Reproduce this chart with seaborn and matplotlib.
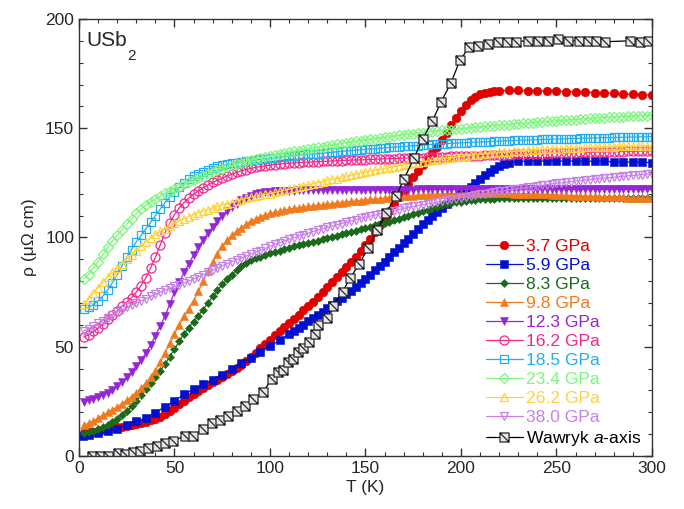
import numpy as np
import pandas as pd
import matplotlib
matplotlib.use("Agg")
import matplotlib.pyplot as plt
import seaborn as sns
from matplotlib.path import Path
from matplotlib.ticker import MultipleLocator

# ---------------- data ----------------
T_grid = [2.5, 5, 7.5, 10, 12.5, 15, 17.5, 20, 22.5, 25,
          27.5, 30, 32.5, 35, 37.5, 40, 42.5, 45, 47.5, 50,
          52.5, 55, 57.5, 60, 62.5, 65, 67.5, 70, 72.5, 75,
          77.5, 80, 82.5, 85, 87.5, 90, 92.5, 95, 97.5, 100,
          102.5, 105, 107.5, 110, 112.5, 115, 117.5, 120, 122.5, 125,
          127.5, 130, 132.5, 135, 137.5, 140, 142.5, 145, 147.5, 150,
          152.5, 155, 157.5, 160, 162.5, 165, 167.5, 170, 172.5, 175,
          177.5, 180, 182.5, 185, 187.5, 190, 192.5, 195, 197.5, 200,
          202.5, 205, 207.5, 210, 212.5, 215, 217.5, 220, 222.5, 225,
          227.5, 230, 232.5, 235, 237.5, 240, 242.5, 245, 247.5, 250,
          252.5, 255, 257.5, 260, 262.5, 265, 267.5, 270, 272.5, 275,
          277.5, 280, 282.5, 285, 287.5, 290, 292.5, 295, 297.5, 300]

T_3p7 = T_grid[:88] + [225, 230, 235, 240, 245, 250, 255, 260, 265, 270, 275, 280, 285, 290, 295, 300]
rho_3p7 = [10.5, 10.8, 11.1, 11.5, 11.9, 12.3, 12.7, 13.1, 13.5, 13.9,
           14.3, 14.7, 15.1, 15.6, 16.3, 17, 18, 19.1, 20.5, 22,
           23.6, 25.3, 26.9, 28.3, 29.8, 31.2, 32.5, 33.8, 35, 36.3,
           37.5, 38.8, 40.3, 41.8, 43.5, 45.3, 47.3, 49.3, 51.3, 53.3,
           55.3, 57.1, 59, 60.8, 62.7, 64.6, 66.6, 68.6, 70.7, 72.8,
           75, 77.3, 79.5, 81.7, 84, 86.3, 88.8, 91.3, 93.8, 96.5,
           99.5, 102.5, 105.7, 109, 112.3, 115.5, 118.5, 121.5, 124.5, 127.5,
           130.3, 133, 135.8, 138.5, 141.5, 144.5, 148, 151.5, 154.8, 158,
           160.7, 163, 164.5, 165.5, 166.2, 166.7, 167, 167.2,
           167.3, 167.3, 167.2, 167.1, 167, 166.9, 166.8, 166.6, 166.5, 166.3,
           166.1, 165.9, 165.7, 165.5, 165.3, 165.1]

T_5p9 = [2, 5, 10, 15, 20, 25, 30, 35, 40, 45, 50, 55, 60, 65, 70, 75, 80, 85, 90, 95,
         100, 105, 110] + T_grid[44:90] + [230, 235, 240, 245, 250, 255, 260, 265, 270,
                                            275, 280, 285, 290, 295, 300]
rho_5p9 = [9, 9.6, 10.5, 11.3, 12.3, 14.3, 15.8, 17.4, 19.8, 22.6, 25.2, 28.2, 30.6, 32.8,
           35, 37.3, 39.8, 42.5, 45, 47.7, 50.2, 53, 55.8,
           57, 58.6, 60.1, 61.6, 63.1, 64.6, 66.1, 67.6, 69.2, 70.8,
           72.4, 74, 75.7, 77.4, 79.2, 81, 83, 85, 87, 89,
           91.2, 93.4, 95.4, 97.4, 99.4, 101.5, 103.7, 106, 108, 110,
           111.8, 113.5, 115.2, 117, 118.5, 120, 121.5, 123, 125, 127,
           128.7, 130.2, 131.5, 132.6, 133.5, 134.2,
           134.8, 135, 135, 135, 135, 135, 135, 134.9, 134.9, 134.8, 134.7, 134.6, 134.5,
           134.4, 134.3]

rho_8p3 = [10.6, 11, 11.6, 12.3, 13.2, 14.3, 15.6, 17, 18.7, 20.5,
           22.7, 25, 27.7, 30.5, 33.2, 36, 39, 42, 45.5, 49,
           52.5, 56, 58.8, 61.5, 64.2, 67, 70, 73, 75.8, 78.5,
           80.8, 83, 85.2, 87, 88.4, 89.5, 90.4, 91.3, 92.1, 92.8,
           93.4, 94, 94.7, 95.3, 95.9, 96.5, 97, 97.5, 98, 98.5,
           99.1, 99.7, 100.2, 100.8, 101.4, 102, 102.6, 103.2, 103.7, 104.3,
           104.9, 105.5, 106.1, 106.7, 107.3, 108, 108.6, 109.3, 110, 110.7,
           111.3, 112, 112.8, 113.5, 114.1, 114.7, 115.2, 115.7, 116.1, 116.4,
           116.7, 117, 117.2, 117.4, 117.6, 117.7, 117.8, 117.9, 118, 118.1,
           118.2, 118.2, 118.3, 118.3, 118.3, 118.3, 118.3, 118.3, 118.3, 118.3,
           118.3, 118.3, 118.3, 118.3, 118.3, 118.2, 118.2, 118.2, 118.2, 118.2,
           118.1, 118.1, 118.1, 118.1, 118.1, 118, 118, 118, 118, 118]
rho_9p8 = [14.3, 15, 16, 17.5, 18.7, 20, 21.2, 22.5, 24, 25.5,
           27.2, 29, 31.2, 33.5, 36.2, 39, 42.8, 47, 51.5, 56,
           60, 64, 67.5, 71, 75.5, 80, 84.5, 89, 92.5, 96,
           98.7, 101, 102.8, 104.5, 106, 107.5, 108.5, 109.5, 110.3, 111,
           111.5, 112, 112.5, 113, 113.3, 113.6, 113.9, 114.2, 114.5, 114.8,
           115, 115.3, 115.5, 115.8, 116, 116.2, 116.5, 116.7, 116.9, 117.2,
           117.4, 117.6, 117.8, 118, 118.2, 118.4, 118.6, 118.8, 119, 119.2,
           119.3, 119.5, 119.6, 119.7, 119.8, 119.9, 120, 120.1, 120.1, 120.2,
           120.2, 120.2, 120.3, 120.3, 120.3, 120.3, 120.3, 120.2, 120.2, 120.2,
           120.1, 120.1, 120, 120, 119.9, 119.8, 119.8, 119.7, 119.6, 119.5,
           119.4, 119.3, 119.2, 119.1, 119, 118.95, 118.9, 118.8, 118.75, 118.7,
           118.6, 118.5, 118.4, 118.4, 118.3, 118.2, 118.2, 118.1, 118.1, 118]
rho_12p3 = [24.5, 25.5, 26.2, 27, 28, 29, 30.3, 32, 34, 36,
            38.5, 41, 44, 47, 51, 55, 59.5, 64, 69.5, 75,
            79.5, 84, 88, 92, 95.5, 99, 102, 105, 107.5, 110,
            112, 114, 115.5, 117, 118, 119, 119.7, 120.3, 120.7, 121,
            121.2, 121.3, 121.4, 121.5, 121.5, 121.6, 121.6, 121.7, 121.7, 121.7,
            121.8, 121.8, 121.8, 121.8, 121.8, 121.8, 121.8, 121.8, 121.8, 121.8,
            121.9, 121.9, 121.9, 121.9, 121.9, 121.9, 121.9, 121.9, 121.9, 121.9,
            122, 122, 122, 122, 122, 122, 122, 122, 122, 122,
            122, 122, 122, 122, 122, 122, 122, 122, 122, 122,
            122, 122, 122, 122, 122, 122, 122, 122, 122, 122,
            122, 122, 122, 122, 122, 122, 122, 122, 122, 122,
            122, 122, 122, 122, 122, 122, 122, 122, 122, 122]
rho_16p2 = [54.5, 55.5, 57, 58.5, 60.5, 62.5, 64.5, 66.5, 68.5, 70.5,
            72.5, 75, 78, 81.5, 86, 91, 96.5, 102, 106.5, 110.5,
            113.5, 116, 118, 119.8, 121.3, 122.7, 124, 125.2, 126.2, 127.2,
            128.1, 129, 129.8, 130.5, 131.1, 131.6, 132.1, 132.5, 132.8, 133.1,
            133.4, 133.6, 133.8, 134, 134.1, 134.3, 134.4, 134.5, 134.6, 134.7,
            134.8, 134.9, 135, 135.1, 135.2, 135.3, 135.4, 135.5, 135.5, 135.6,
            135.7, 135.8, 135.9, 136, 136.1, 136.1, 136.2, 136.3, 136.4, 136.5,
            136.5, 136.6, 136.7, 136.8, 136.8, 136.9, 137, 137.1, 137.1, 137.2,
            137.3, 137.4, 137.4, 137.5, 137.6, 137.6, 137.7, 137.8, 137.9, 137.9,
            138, 138.1, 138.1, 138.2, 138.3, 138.3, 138.4, 138.4, 138.5, 138.6,
            138.6, 138.7, 138.7, 138.8, 138.9, 138.9, 139, 139, 139.1, 139.1,
            139.2, 139.2, 139.3, 139.3, 139.4, 139.4, 139.5, 139.5, 139.6, 139.6]
rho_18p5 = [67.3, 68, 69.3, 71, 73.2, 76, 79.3, 83, 87, 91,
            94.5, 98, 101, 104, 107, 110, 113, 116, 118.6, 121,
            123, 125, 126.6, 128, 129.1, 130, 131, 132, 132.5, 133,
            133.5, 134, 134.3, 134.6, 134.9, 135.2, 135.5, 135.8, 136, 136.3,
            136.5, 136.8, 137, 137.2, 137.4, 137.6, 137.8, 138, 138.2, 138.4,
            138.6, 138.8, 139, 139.2, 139.4, 139.6, 139.8, 140, 140.1, 140.3,
            140.5, 140.7, 140.8, 141, 141.2, 141.3, 141.5, 141.7, 141.8, 142,
            142.1, 142.3, 142.4, 142.6, 142.7, 142.9, 143, 143.1, 143.2, 143.3,
            143.4, 143.5, 143.6, 143.7, 143.8, 143.9, 144, 144.1, 144.2, 144.3,
            144.4, 144.5, 144.6, 144.6, 144.7, 144.8, 144.9, 144.9, 145, 145.1,
            145.1, 145.2, 145.3, 145.3, 145.4, 145.5, 145.5, 145.6, 145.6, 145.7,
            145.7, 145.8, 145.8, 145.9, 145.9, 146, 146, 146.1, 146.1, 146.2]
rho_23p4 = [81, 83, 86, 89, 92.3, 95.5, 98.5, 101, 103.6, 106,
            108.5, 111, 113, 114.8, 116.3, 117.7, 119, 120.2, 121.3, 122.3,
            123.3, 124.3, 125.3, 126.3, 127.2, 128.1, 129, 129.9, 130.7, 131.5,
            132.2, 132.9, 133.6, 134.2, 134.8, 135.4, 135.9, 136.4, 136.9, 137.3,
            137.8, 138.2, 138.6, 139, 139.4, 139.8, 140.2, 140.6, 140.9, 141.3,
            141.6, 142, 142.3, 142.7, 143, 143.4, 143.7, 144, 144.3, 144.6,
            144.9, 145.2, 145.5, 145.8, 146.1, 146.4, 146.7, 147, 147.2, 147.5,
            147.7, 148, 148.2, 148.5, 148.7, 149, 149.2, 149.4, 149.6, 149.8,
            150, 150.2, 150.4, 150.6, 150.8, 151, 151.2, 151.4, 151.5, 151.7,
            151.9, 152.1, 152.3, 152.4, 152.6, 152.8, 152.9, 153.1, 153.3, 153.4,
            153.6, 153.7, 153.9, 154, 154.2, 154.3, 154.5, 154.6, 154.8, 154.9,
            155, 155.1, 155.2, 155.3, 155.4, 155.5, 155.6, 155.7, 155.8, 155.9]
rho_26p2 = [69.5, 72, 74.5, 77, 79.5, 82, 84, 86, 88, 90,
            92, 94, 96, 98, 99.8, 101.5, 102.8, 104, 105.3, 106.5,
            107.5, 108.5, 109.5, 110.5, 111.3, 112, 112.8, 113.5, 114.2, 114.8,
            115.4, 116, 116.6, 117.2, 117.9, 118.5, 118.9, 119.3, 119.7, 120.1,
            120.6, 121.1, 121.6, 122.1, 122.6, 123.1, 123.6, 124.1, 124.6, 125.1,
            125.6, 126.1, 126.6, 127, 127.5, 128, 128.5, 129, 129.5, 130,
            130.4, 130.8, 131.2, 131.6, 132, 132.4, 132.8, 133.2, 133.5, 133.9,
            134.2, 134.6, 134.9, 135.3, 135.6, 135.9, 136.2, 136.5, 136.8, 137.1,
            137.3, 137.6, 137.8, 138.1, 138.3, 138.5, 138.7, 138.9, 139.1, 139.3,
            139.4, 139.6, 139.7, 139.9, 140, 140.1, 140.3, 140.4, 140.5, 140.6,
            140.7, 140.8, 140.9, 141, 141.1, 141.2, 141.3, 141.3, 141.4, 141.5,
            141.5, 141.6, 141.7, 141.7, 141.8, 141.8, 141.9, 141.9, 142, 142]
rho_38p0 = [57.3, 58.3, 59.5, 60.8, 62, 63.3, 64.6, 65.8, 67, 68,
            69, 70, 71, 72, 73, 74, 75, 76, 76.8, 77.6,
            78.4, 79.2, 80.1, 81, 82, 83, 84, 85, 86, 87,
            88, 89, 89.8, 90.6, 91.5, 92.4, 93.2, 94, 95, 96,
            96.8, 97.6, 98.4, 99.2, 99.9, 100.6, 101.3, 102, 102.7, 103.4,
            104, 104.6, 105.2, 105.8, 106.4, 107, 107.6, 108.2, 108.8, 109.3,
            109.8, 110.3, 110.8, 111.3, 111.8, 112.3, 112.8, 113.3, 113.8, 114.2,
            114.6, 115, 115.4, 115.8, 116.2, 116.6, 117, 117.4, 117.8, 118.2,
            118.5, 118.9, 119.3, 119.7, 120, 120.4, 120.7, 121.1, 121.4, 121.8,
            122.1, 122.4, 122.7, 123, 123.3, 123.6, 123.9, 124.2, 124.5, 124.8,
            125, 125.3, 125.5, 125.8, 126, 126.3, 126.5, 126.8, 127, 127.2,
            127.4, 127.6, 127.8, 128, 128.2, 128.4, 128.6, 128.8, 129, 129.2]

T_wawryk = [6.6, 11, 15.4, 20.6, 24, 28.4, 32, 36.3, 40.7, 45, 49.4, 55.5, 59.8, 65, 69.5, 73.8, 78.2, 82.6,
            86.9, 91.3, 96.5, 100.9, 104.4, 107, 109.6, 112.2, 114.8, 117.4, 120.6, 123.6, 125.3, 129.7, 133,
            138, 141.9, 146.8, 151.5, 156.2, 160.7, 166, 170.3, 175.4, 179.9, 185, 189.5, 194.8, 199.5, 204.2,
            208.7, 214.3, 219.5, 224.3, 229, 235, 240.5, 245.7, 250.6, 256, 261.8, 266.7, 270.5, 275.4, 288.5,
            293.7, 298]
rho_wawryk = [0, 0, 0, 1.2, 0.9, 1.7, 2.4, 3.5, 4.7, 5.9, 6.9, 9.3, 9.3, 12.4, 15, 16.5, 18.3, 20.7,
              22.9, 25.9, 29.5, 35.2, 38.6, 39.4, 43, 44.4, 47.7, 49.6, 52.3, 56, 60, 63, 68.6,
              75.2, 81.3, 88, 95.3, 103.4, 111, 119, 127, 136.4, 145, 153.3, 161.9, 170.9, 181.2, 187,
              187.6, 188.6, 189.6, 189.6, 189.6, 190.1, 190, 190, 190.8, 190, 190, 190, 190, 189.6, 190,
              189.6, 190]

labels = ["3.7 GPa", "5.9 GPa", "8.3 GPa", "9.8 GPa", "12.3 GPa", "16.2 GPa",
          "18.5 GPa", "23.4 GPa", "26.2 GPa", "38.0 GPa"]
t_series = [T_3p7, T_5p9, T_grid, T_grid, T_grid, T_grid, T_grid, T_grid, T_grid, T_grid]
series = [rho_3p7, rho_5p9, rho_8p3, rho_9p8, rho_12p3, rho_16p2,
          rho_18p5, rho_23p4, rho_26p2, rho_38p0]

# ---------------- style ----------------
sns.set_theme(style="ticks")
plt.rcParams["font.family"] = ["Liberation Sans", "DejaVu Sans"]
plt.rcParams["mathtext.fontset"] = "custom"
plt.rcParams["mathtext.rm"] = "Liberation Sans"
plt.rcParams["mathtext.it"] = "Liberation Sans:italic"

colors = ["#e00000", "#0010d0", "#1a6a1a", "#f07a1e", "#9526d6", "#f0288c",
          "#23aef0", "#7cf77c", "#ffd23c", "#c780e8"]
styles = [
    dict(marker="o", ms=6.2, filled=True),
    dict(marker="s", ms=5.8, filled=True),
    dict(marker="D", ms=3.8, filled=True),
    dict(marker="^", ms=6.2, filled=True),
    dict(marker="v", ms=6.2, filled=True),
    dict(marker="o", ms=6.5, filled=False),
    dict(marker="s", ms=6.2, filled=False),
    dict(marker="D", ms=5.0, filled=False),
    dict(marker="^", ms=6.0, filled=False),
    dict(marker="v", ms=6.0, filled=False),
]

fig = plt.figure(figsize=(6.84, 5.09), dpi=100)
ax = fig.add_axes([0.1155, 0.1041, 0.8377, 0.8586])

for lab, tt, vals, c, st in zip(labels, t_series, series, colors, styles):
    df = pd.DataFrame({"T": tt, "rho": vals})
    sns.lineplot(data=df, x="T", y="rho", ax=ax, color=c, linewidth=0.9,
                 marker=st["marker"], markersize=st["ms"],
                 markerfacecolor=(c if st["filled"] else "none"),
                 markeredgecolor=c, markeredgewidth=(0.4 if st["filled"] else 0.9),
                 label=lab, sort=False, estimator=None)

# square with a diagonal for the Wawryk data
sq_verts = [(-1, -1), (1, -1), (1, 1), (-1, 1), (-1, -1), (-1, 1), (1, -1)]
sq_codes = [Path.MOVETO, Path.LINETO, Path.LINETO, Path.LINETO, Path.CLOSEPOLY,
            Path.MOVETO, Path.LINETO]
sq_marker = Path(sq_verts, sq_codes)
dfw = pd.DataFrame({"T": T_wawryk, "rho": rho_wawryk})
sns.lineplot(data=dfw, x="T", y="rho", ax=ax, color="black", linewidth=0.9,
             marker=sq_marker, markersize=6.5, markerfacecolor="#e8e8e8",
             markeredgecolor="#262626", markeredgewidth=0.9,
             label=r"Wawryk $a$-axis", sort=False, estimator=None)

ax.set_xlim(0, 300)
ax.set_ylim(0, 200)
ax.xaxis.set_major_locator(MultipleLocator(50))
ax.xaxis.set_minor_locator(MultipleLocator(10))
ax.yaxis.set_major_locator(MultipleLocator(50))
ax.yaxis.set_minor_locator(MultipleLocator(10))
ax.tick_params(which="both", direction="in", top=True, right=True, labelsize=12.5,
               color="#333333")
ax.tick_params(which="major", length=6, width=1)
ax.tick_params(which="minor", length=3, width=0.8)
for sp in ax.spines.values():
    sp.set_linewidth(1.0)
    sp.set_color("#333333")

ax.set_xlabel("T (K)", fontsize=12.5, labelpad=3)
ax.set_ylabel("ρ (μΩ cm)", fontsize=12.5, labelpad=6)

ax.text(0.012, 0.972, "USb", transform=ax.transAxes, fontsize=15,
        ha="left", va="top")
ax.text(0.085, 0.931, "2", transform=ax.transAxes, fontsize=11,
        ha="left", va="top")

leg = ax.legend(loc="lower right", bbox_to_anchor=(0.995, 0.0), frameon=False,
                fontsize=12.6, handlelength=2.1, handletextpad=0.2,
                labelspacing=0.215, borderaxespad=0.05, labelcolor="linecolor",
                numpoints=1)

fig.savefig("out.png", dpi=100)
